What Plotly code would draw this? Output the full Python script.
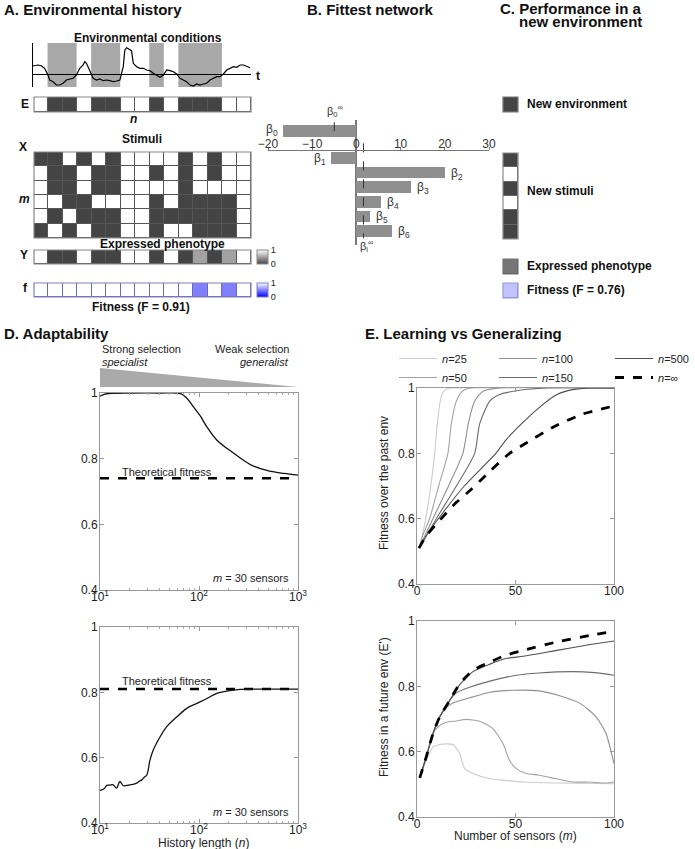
import plotly.graph_objects as go

W, H = 695, 849
def fx(p): return p / W
def fy(p): return 1 - p / H

FONT = "Liberation Sans, Arial, Helvetica, sans-serif"

# ---------------- DATA ----------------
# A. Environmental history
env_time = [-0.5, -0.155, 0.075, 0.30, 0.53, 0.65, 0.88, 1.11, 1.34, 1.57, 1.80, 2.03, 2.26, 2.49, 2.72,
            2.95, 3.06, 3.18, 3.41, 3.64, 3.87, 4.10, 4.33, 4.56, 4.79, 5.02, 5.25, 5.48, 5.71, 5.82,
            5.94, 6.17, 6.28, 6.40, 6.63, 6.86, 7.09, 7.32, 7.55, 7.78, 8.01, 8.24, 8.47, 8.70, 8.93,
            9.16, 9.39, 9.61, 9.84, 10.07, 10.30, 10.53, 10.76, 10.99, 11.22, 11.45, 11.68, 11.91,
            12.14, 12.37, 12.60, 12.83, 13.06, 13.29, 13.52, 13.75, 13.98, 14.21, 14.44]
env_level = [0.8, 0.9, 0.83, 0.57, -0.1, -0.6, -0.77, -1.1, -1.1, -0.93, -0.6, -0.5, -0.43, -0.1, 0.57,
             0.9, 1.23, 1.07, 0.23, -0.43, -0.6, -0.5, -0.67, -0.6, -0.67, -0.77, -0.7, -0.6, 0.73, 2.4,
             2.63, 2.4, 2.33, 1.07, 0.73, 0.57, 0.57, 0.4, 0.33, 0.07, -0.1, -0.33, -0.1, 0.4, 0.33,
             0.23, 0.0, -0.43, -0.6, -0.77, -1.1, -1.2, -1.0, -1.1, -1.0, -0.93, -0.6, -0.43,
             -0.27, -0.27, 0.0, 0.4, 0.57, 0.73, 0.67, 0.9, 0.9, 0.8, 0.63]
env_state = [1, 0, 0, 1, 0, 0, 1, 1, 0, 1, 0, 0, 0, 1, 1]        # 0 = low (dark)
stimuli = [                                                    # 1 = active (dark)
    [1, 1, 0, 1, 0, 1, 0, 0, 0, 0, 1, 0, 1, 0, 0],
    [0, 1, 1, 0, 1, 1, 0, 0, 1, 0, 1, 0, 1, 0, 0],
    [0, 1, 1, 0, 1, 1, 0, 0, 0, 0, 1, 0, 0, 0, 0],
    [0, 0, 1, 1, 0, 0, 0, 0, 1, 0, 1, 1, 1, 1, 0],
    [0, 1, 0, 1, 1, 1, 0, 0, 1, 1, 1, 1, 1, 1, 0],
    [1, 0, 1, 0, 1, 1, 0, 0, 1, 0, 0, 1, 1, 1, 0],
]
phenotype = [1, 0, 0, 1, 0, 0, 1, 1, 0, 1, 0, 0.5, 0, 0.5, 1]
cell_fitness = [1, 1, 1, 1, 1, 1, 1, 1, 1, 1, 1, 0.5, 1, 0.5, 1]
fitness_A = 0.91

# B. Fittest network
beta_names = ["β<sub>0</sub>", "β<sub>1</sub>", "β<sub>2</sub>", "β<sub>3</sub>",
              "β<sub>4</sub>", "β<sub>5</sub>", "β<sub>6</sub>"]
beta_values = [-16.5, -5.7, 20.0, 12.3, 5.5, 3.0, 8.0]
beta0_inf = -5.0
betai_inf = 1.6
beta_ticks = [-20, -10, 0, 10, 20, 30]

# C. New environment
new_env = [0]
new_stimuli = [1, 0, 1, 0, 1, 1]
new_phenotype = [0.27]
new_fitness = [0.76]

# D. Adaptability
d_top_n = [10, 11, 13, 20, 40, 65, 75, 88, 103, 120, 151, 223, 330, 485, 716, 1000]
d_top_f = [0.99, 0.996, 0.999, 1.0, 1.0, 0.998, 0.985, 0.958, 0.93, 0.897, 0.857, 0.817,
           0.782, 0.764, 0.755, 0.75]
d_top_theory = 0.74
d_bot_n = [10, 11, 11.7, 12.5, 13.6, 14.7, 15.9, 17.2, 18.5, 20.1, 22, 23.5, 25, 26.4, 28, 29.7,
           32, 34.6, 40.5, 47.2, 59.8, 75.2, 95, 120, 151, 191, 260, 400, 1000]
d_bot_f = [0.50, 0.505, 0.515, 0.516, 0.517, 0.507, 0.527, 0.514, 0.515, 0.517, 0.519, 0.522,
           0.528, 0.532, 0.54, 0.547, 0.593, 0.624, 0.664, 0.695, 0.725, 0.751, 0.766, 0.781,
           0.797, 0.804, 0.809, 0.81, 0.81]
d_bot_theory = 0.81

# E. Learning vs generalizing -- past environment
past_m_25 = [1, 2, 4.4, 7, 9, 10.3, 11.8, 13, 15, 20, 100]
past_f_25 = [0.51, 0.53, 0.6, 0.7, 0.8, 0.89, 0.96, 0.985, 0.998, 1, 1]
past_m_50 = [1, 3, 6.4, 11, 15.7, 17.4, 20, 23, 27, 100]
past_f_50 = [0.51, 0.55, 0.6, 0.7, 0.8, 0.89, 0.96, 0.99, 1, 1]
past_m_100 = [1, 8.1, 16, 23.3, 26, 29.3, 33.5, 42, 100]
past_f_100 = [0.51, 0.6, 0.7, 0.8, 0.89, 0.96, 0.99, 1, 1]
past_m_150 = [1, 9.8, 20, 29.3, 31.8, 36.9, 42, 52, 66, 100]
past_f_150 = [0.51, 0.6, 0.7, 0.8, 0.89, 0.96, 0.98, 0.993, 1, 1]
past_m_500 = [1, 5, 11.5, 24, 40, 45, 53, 62, 71, 79, 90, 100]
past_f_500 = [0.51, 0.55, 0.605, 0.7, 0.8, 0.84, 0.89, 0.94, 0.98, 0.995, 1, 1]
past_m_inf = [1, 5, 11.5, 20, 27.6, 37, 47, 55, 69, 84, 100]
past_f_inf = [0.51, 0.55, 0.595, 0.65, 0.69, 0.745, 0.8, 0.83, 0.88, 0.92, 0.945]

# E. -- future environment
fut_m_25 = [1.4, 4.7, 8.1, 11.5, 15, 18.3, 21.7, 24.2, 28.4, 37, 45, 54, 71, 100]
fut_f_25 = [0.52, 0.573, 0.614, 0.622, 0.624, 0.622, 0.594, 0.548, 0.533, 0.517, 0.512, 0.507, 0.504, 0.502]
fut_m_50 = [1.4, 4.7, 8, 11.5, 14.9, 20, 25, 31.8, 38.6, 43.7, 47, 50.4, 55.5, 62, 70.7, 79, 88, 96, 100]
fut_f_50 = [0.52, 0.584, 0.655, 0.68, 0.69, 0.694, 0.699, 0.693, 0.67, 0.624, 0.573, 0.548, 0.533,
            0.528, 0.517, 0.507, 0.507, 0.504, 0.507]
fut_m_100 = [1.4, 4.7, 8.1, 11.5, 15, 18, 28, 37, 48.7, 62, 72, 83, 91, 96, 100]
fut_f_100 = [0.52, 0.584, 0.655, 0.706, 0.735, 0.748, 0.767, 0.782, 0.788, 0.786, 0.772, 0.747,
             0.706, 0.655, 0.563]
fut_m_150 = [1.4, 4.7, 8.1, 11.5, 16.6, 20, 26.7, 37, 50.4, 62, 79, 90, 100]
fut_f_150 = [0.52, 0.584, 0.655, 0.706, 0.757, 0.78, 0.797, 0.816, 0.834, 0.841, 0.845, 0.842, 0.834]
fut_m_500 = [1.4, 4.7, 8.1, 11.5, 16.6, 21.7, 28.4, 37, 45, 54, 71, 88, 100]
fut_f_500 = [0.52, 0.584, 0.655, 0.706, 0.757, 0.805, 0.845, 0.868, 0.885, 0.892, 0.91, 0.928, 0.939]
fut_m_inf = [1.4, 4.7, 8.1, 11.5, 16.6, 21.7, 28.4, 37, 45, 54, 71, 88, 100]
fut_f_inf = [0.52, 0.584, 0.655, 0.706, 0.757, 0.808, 0.849, 0.874, 0.895, 0.91, 0.936, 0.956, 0.969]

n_labels = ["25", "50", "100", "150", "500", "∞"]

# ---------------- FIGURE ----------------
GRAY = [[0, "#444444"], [1, "#ffffff"]]
GRAY_R = [[0, "#ffffff"], [1, "#444444"]]
BLUE = [[0, "#0000ff"], [1, "#ffffff"]]

fig = go.Figure()
L = {}
shapes = []
anns = []

def refs(i):
    return ("x", "y") if i == 1 else (f"x{i}", f"y{i}")

def axes(i, xdom, ydom, xr, yr, xkw=None, ykw=None):
    xr_, yr_ = refs(i)
    xn = "xaxis" if i == 1 else f"xaxis{i}"
    yn = "yaxis" if i == 1 else f"yaxis{i}"
    xa = dict(domain=[fx(xdom[0]), fx(xdom[1])], range=xr, visible=False, anchor=yr_, fixedrange=True)
    ya = dict(domain=[fy(ydom[1]), fy(ydom[0])], range=yr, visible=False, anchor=xr_, fixedrange=True)
    if xkw: xa.update(xkw)
    if ykw: ya.update(ykw)
    L[xn] = xa
    L[yn] = ya

def grid(i, xdom, ydom, z, cs, sep, border, colorbar=None):
    nr, nc = len(z), len(z[0])
    axes(i, xdom, ydom, [-0.5, nc - 0.5], [nr - 0.5, -0.5])
    xr_, yr_ = refs(i)
    fig.add_trace(go.Heatmap(z=z, xaxis=xr_, yaxis=yr_, colorscale=cs, zmin=0, zmax=1,
                             xgap=1, ygap=1, showscale=colorbar is not None,
                             colorbar=colorbar, hoverinfo="skip"))
    shapes.append(dict(type="rect", xref=f"{xr_} domain", yref=f"{yr_} domain", x0=0, x1=1, y0=0, y1=1,
                       fillcolor=sep, line=dict(width=0), layer="below"))
    shapes.append(dict(type="rect", xref=f"{xr_} domain", yref=f"{yr_} domain", x0=0, x1=1, y0=0, y1=1,
                       fillcolor="rgba(0,0,0,0)", line=dict(color=border, width=1.2), layer="above"))

def ann(text, x, y, size=12, xanchor="left", color="#111", angle=0, **kw):
    d = dict(text=text, x=fx(x), y=fy(y), xref="paper", yref="paper", showarrow=False,
             xanchor=xanchor, yanchor="middle", font=dict(size=size, color=color, family=FONT),
             textangle=angle)
    d.update(kw)
    anns.append(d)

# ---- A: environmental signal ----
ncell = len(env_state)
axes(1, (33, 251), (43, 87), [-0.5, ncell - 0.5], [-1.3, 3.1],
     ykw=dict(visible=True, showline=True, linecolor="#000", linewidth=1, showticklabels=False,
              ticks="", showgrid=False, zeroline=True, zerolinecolor="#000", zerolinewidth=1))
# gray bands where the environment is low
i = 0
while i < ncell:
    if env_state[i] == 0:
        j = i
        while j + 1 < ncell and env_state[j + 1] == 0:
            j += 1
        shapes.append(dict(type="rect", xref="x", yref="y domain", x0=i - 0.5, x1=j + 0.5, y0=0, y1=1,
                           fillcolor="#a8a8a8", line=dict(width=0), layer="below"))
        i = j + 1
    else:
        i += 1
fig.add_trace(go.Scatter(x=env_time, y=env_level, mode="lines", line=dict(color="#000", width=1.2),
                         xaxis="x", yaxis="y", showlegend=False, hoverinfo="skip"))

cb_common = dict(xanchor="left", yanchor="bottom", len=14, lenmode="pixels", thickness=11,
                 thicknessmode="pixels", tickvals=[0, 1], ticktext=["0", "1"], ticks="",
                 tickfont=dict(size=9, color="#222"), outlinewidth=1, xpad=0, ypad=0)
grid(2, (34, 251), (97, 112), [env_state], GRAY, "#555", "#888")
grid(3, (34, 251), (152, 238), stimuli, GRAY_R, "#555", "#888")
grid(4, (34, 251), (250, 264), [phenotype], GRAY, "#555", "#888",
     colorbar=dict(x=fx(257), y=fy(264), outlinecolor="#888", **cb_common))
grid(5, (34, 251), (283, 297), [cell_fitness], BLUE, "#6a6ab8", "#8080c0",
     colorbar=dict(x=fx(257), y=fy(297), outlinecolor="#8080c0", **cb_common))

ann("<b>A. Environmental history</b>", 2, 10, 15)
ann("<b>Environmental conditions</b>", 148, 38, 12, "center")
ann("<b>t</b>", 254, 76, 12)
ann("<b>E</b>", 31, 104, 12, "right")
ann("<b><i>n</i></b>", 133, 119, 12, "center")
ann("<b>Stimuli</b>", 142, 139, 12, "center")
ann("<b>X</b>", 29, 147, 12, "right")
ann("<b><i>m</i></b>", 32, 199, 12, "right")
ann("<b>Expressed phenotype</b>", 162, 244, 12, "center")
ann("<b>Y</b>", 30, 255, 12, "right")
ann("<b>f</b>", 30, 288, 12, "right")
ann(f"<b>Fitness (F = {fitness_A:.2f})</b>", 141, 307, 12, "center")

# ---- B: fittest network ----
beta_pos = [-0.85] + list(range(1, len(beta_values)))
axes(6, (268, 489), (120, 245), [-20, 30], [6.96, -1.6],
     xkw=dict(visible=True, anchor="free", position=fy(150), side="top", tickvals=beta_ticks,
              ticks="outside", ticklen=3, tickcolor="#777", showline=True, linecolor="#777", linewidth=1,
              zeroline=True, zerolinecolor="#777", zerolinewidth=1.5, showgrid=False,
              ticklabelstandoff=-6, tickfont=dict(size=12, color="#333", family=FONT)))
fig.add_trace(go.Bar(x=beta_values, y=beta_pos, orientation="h", width=0.79,
                     marker=dict(color="#8f8f8f", line=dict(width=0)), xaxis="x6", yaxis="y6",
                     showlegend=False, hoverinfo="skip"))
fig.add_trace(go.Scatter(x=[beta0_inf, beta0_inf], y=[-1.45, -0.4], mode="lines",
                         line=dict(color="#333", width=1, dash="dash"), xaxis="x6", yaxis="y6",
                         showlegend=False, hoverinfo="skip"))
fig.add_trace(go.Scatter(x=[betai_inf, betai_inf], y=[0.0, 6.5], mode="lines",
                         line=dict(color="#333", width=1, dash="dash"), xaxis="x6", yaxis="y6",
                         showlegend=False, hoverinfo="skip"))
for name, v, p in zip(beta_names, beta_values, beta_pos):
    anns.append(dict(text=name, x=v, y=p, xref="x6", yref="y6", showarrow=False,
                     xanchor="right" if v < 0 else "left", xshift=-3 if v < 0 else 4,
                     yshift=1 if p < 0 else -1,
                     font=dict(size=12, color="#333", family=FONT)))
ann("<b>B. Fittest network</b>", 370, 10, 15, "center")
ann("β<sub>0</sub><sup>∞</sup>", 335, 111, 11, "center", color="#333")
ann("β<sub>i</sub><sup>∞</sup>", 367, 246, 11, "center", color="#333")

# ---- C: new environment ----
grid(7, (503, 518), (97, 112), [new_env], GRAY, "#555", "#777")
grid(8, (503, 518), (153, 239), [[v] for v in new_stimuli], GRAY_R, "#666", "#888")
grid(9, (503, 518), (259, 274), [new_phenotype], GRAY, "#555", "#777")
grid(10, (503, 518), (283, 298), [new_fitness], BLUE, "#9a9ad8", "#9a9ad8")
ann("<b>C. Performance in a</b>", 644, 9, 15, "right")
ann("<b>new environment</b>", 644, 22, 15, "right")
ann("<b>New environment</b>", 525, 104, 12)
ann("<b>New stimuli</b>", 525, 191, 12)
ann("<b>Expressed phenotype</b>", 525, 266, 12)
ann(f"<b>Fitness (F = {new_fitness[0]:.2f})</b>", 525, 290, 12)

# ---- D: adaptability ----
minor_log = [20, 30, 40, 50, 60, 70, 80, 90, 200, 300, 400, 500, 600, 700, 800, 900]
def d_x():
    return dict(visible=True, type="log", range=[1, 3], tickvals=[10, 100, 1000],
                ticktext=["10<sup>1</sup>", "10<sup>2</sup>", "10<sup>3</sup>"], ticks="inside",
                ticklen=4, tickcolor="#999", showline=True, linecolor="#999", linewidth=1,
                mirror="allticks", showgrid=False, zeroline=False, ticklabelstandoff=-4,
                tickfont=dict(size=12, color="#222", family=FONT),
                minor=dict(ticks="inside", ticklen=2, tickcolor="#aaa", tickmode="array",
                           tickvals=minor_log, showgrid=False))
def d_y():
    return dict(visible=True, tickvals=[0.4, 0.6, 0.8, 1], ticktext=["0.4", "0.6", "0.8", "1"],
                ticks="inside", ticklen=4, tickcolor="#999", showline=True, linecolor="#999",
                linewidth=1, mirror="allticks", showgrid=False, zeroline=False, ticklabelstandoff=-1,
                tickfont=dict(size=12, color="#222", family=FONT))
axes(11, (100, 298), (393, 590), [1, 3], [0.4, 1], xkw=d_x(), ykw=d_y())
axes(12, (100, 298), (627, 823), [1, 3], [0.4, 1], xkw=d_x(), ykw=d_y())
for ax, ns, fs, th in (("11", d_top_n, d_top_f, d_top_theory), ("12", d_bot_n, d_bot_f, d_bot_theory)):
    fig.add_trace(go.Scatter(x=[10, 1000], y=[th, th], mode="lines", line=dict(color="#000", width=2.5, dash="dash"),
                             xaxis="x" + ax, yaxis="y" + ax, showlegend=False, hoverinfo="skip"))
    fig.add_trace(go.Scatter(x=ns, y=fs, mode="lines", line=dict(color="#111", width=1.3, shape="spline"),
                             xaxis="x" + ax, yaxis="y" + ax, showlegend=False, hoverinfo="skip"))
shapes.append(dict(type="path", xref="paper", yref="paper",
                   path=f"M {fx(100)},{fy(368)} L {fx(100)},{fy(387)} L {fx(298)},{fy(387)} Z",
                   fillcolor="#aaaaaa", line=dict(width=0)))
ann("<b>D. Adaptability</b>", 2, 333, 15)
ann("Strong selection", 100, 349, 11, color="#222")
ann("<i>specialist</i>", 100, 362, 11, color="#222")
ann("Weak selection", 291, 349, 11, "right", color="#222")
ann("<i>generalist</i>", 291, 362, 11, "right", color="#222")
ann("Theoretical fitness", 120, 472, 11, color="#222")
ann("Theoretical fitness", 120, 681, 11, color="#222")
ann("<i>m</i> = 30 sensors", 291, 578, 11, "right", color="#222")
ann("<i>m</i> = 30 sensors", 291, 812, 11, "right", color="#222")
ann("History length (<i>n</i>)", 203, 843, 12, "center", color="#222")

# ---- E: learning vs generalizing ----
def e_x():
    return dict(visible=True, range=[0, 100], tickvals=[0, 50, 100], ticks="inside", ticklen=4,
                tickcolor="#999", showline=True, linecolor="#999", linewidth=1, mirror="allticks",
                showgrid=False, zeroline=False, ticklabelstandoff=-4,
                tickfont=dict(size=12, color="#222", family=FONT))
axes(13, (417, 614), (388, 584), [0, 100], [0.4, 1], xkw=e_x(), ykw=d_y())
axes(14, (417, 614), (621, 817), [0, 100], [0.4, 1], xkw=e_x(), ykw=d_y())

e_colors = ["#cccccc", "#a3a3a3", "#909090", "#6c6c6c", "#505050", "#000000"]
e_legend = ["legend", "legend", "legend2", "legend2", "legend3", "legend3"]
past = [(past_m_25, past_f_25), (past_m_50, past_f_50), (past_m_100, past_f_100),
        (past_m_150, past_f_150), (past_m_500, past_f_500), (past_m_inf, past_f_inf)]
fut = [(fut_m_25, fut_f_25), (fut_m_50, fut_f_50), (fut_m_100, fut_f_100),
       (fut_m_150, fut_f_150), (fut_m_500, fut_f_500), (fut_m_inf, fut_f_inf)]
for k, lab in enumerate(n_labels):
    inf = lab == "∞"
    ln = dict(color=e_colors[k], width=2.8 if inf else 1.1, dash="dash" if inf else "solid",
              shape="spline", smoothing=0.6)
    fig.add_trace(go.Scatter(x=past[k][0], y=past[k][1], mode="lines", line=ln, name=f"<i>n</i>={lab}",
                             legend=e_legend[k], xaxis="x13", yaxis="y13", hoverinfo="skip"))
    fig.add_trace(go.Scatter(x=fut[k][0], y=fut[k][1], mode="lines", line=ln, showlegend=False,
                             xaxis="x14", yaxis="y14", hoverinfo="skip"))

for name, xl in (("legend", 394), ("legend2", 494), ("legend3", 610)):
    L[name] = dict(x=fx(xl), y=fy(344), xanchor="left", yanchor="top", orientation="v",
                   itemwidth=38, bgcolor="rgba(0,0,0,0)", tracegroupgap=0,
                   font=dict(size=11, color="#222", family=FONT))

ann("<b>E. Learning vs Generalizing</b>", 363, 333, 15)
ann("Fitness over the past env", 384, 483, 12, "center", color="#222", angle=-90)
ann("Fitness in a future env (E')", 384, 707, 12, "center", color="#222", angle=-90)
ann("Number of sensors (<i>m</i>)", 515, 836, 12, "center", color="#222")

fig.update_layout(width=W, height=H, margin=dict(l=0, r=0, t=0, b=0, pad=0, autoexpand=False),
                  paper_bgcolor="white", plot_bgcolor="white",
                  font=dict(family=FONT, size=12, color="#222"),
                  shapes=shapes, annotations=anns, showlegend=True, bargap=0, **L)
fig.write_html("out.html", config={"displayModeBar": False},
               post_script="document.body.style.margin='0px';")
